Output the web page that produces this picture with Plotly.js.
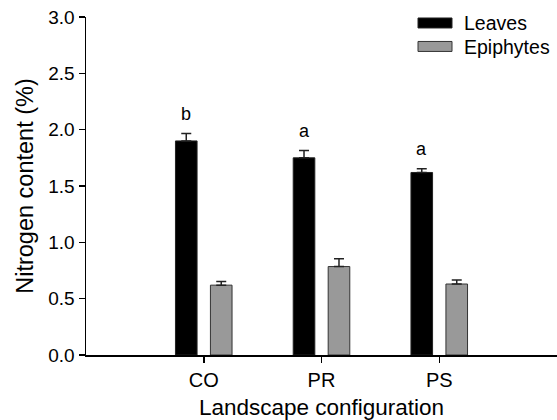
<!DOCTYPE html>
<html>
<head>
<meta charset="utf-8">
<script src="https://cdn.plot.ly/plotly-3.0.1.min.js"></script>
<style>html,body{margin:0;padding:0;background:#fff;}</style>
</head>
<body>
<div id="chart" style="width:557px;height:420px;"></div>
<script>
const categories = ["CO", "PR", "PS"];
const leaves = [1.90, 1.75, 1.62];
const leavesErr = [0.065, 0.065, 0.033];
const epiphytes = [0.62, 0.785, 0.63];
const epiphytesErr = [0.033, 0.07, 0.036];
const letters = ["b", "a", "a"];
const seriesNames = ["Leaves", "Epiphytes"];

const FONT = "Liberation Sans, Arial, sans-serif";

const traces = [
  {
    type: "bar", name: seriesNames[0], x: categories, y: leaves,
    marker: {color: "#000000", line: {color: "#222222", width: 1}},
    error_y: {type: "data", array: leavesErr, symmetric: false, arrayminus: [0,0,0], color: "#222222", thickness: 1.5, width: 5},
    showlegend: false
  },
  {
    type: "bar", name: seriesNames[1], x: categories, y: epiphytes,
    marker: {color: "#999999", line: {color: "#333333", width: 1}},
    error_y: {type: "data", array: epiphytesErr, symmetric: false, arrayminus: [0,0,0], color: "#222222", thickness: 1.5, width: 5},
    showlegend: false
  }
];

const annotations = categories.map((c, i) => ({
  x: c, y: leaves[i] + leavesErr[i], xref: "x", yref: "y",
  text: letters[i], showarrow: false, yanchor: "bottom", yshift: 8, xshift: -17.5,
  font: {family: FONT, size: 18, color: "#000"}
}));

// manual legend
const px = v => (v - 86) / 471;
const py = v => (355.5 - v) / 338.5;
const shapes = [
  {type: "rect", xref: "paper", yref: "paper", x0: px(418), x1: px(452), y0: py(28), y1: py(18), fillcolor: "#000000", line: {color: "#222", width: 1}},
  {type: "rect", xref: "paper", yref: "paper", x0: px(418), x1: px(452), y0: py(51.5), y1: py(41.5), fillcolor: "#999999", line: {color: "#333", width: 1}}
];
annotations.push(
  {xref: "paper", yref: "paper", x: px(462), y: py(23.5), xanchor: "left", yanchor: "middle", text: seriesNames[0], showarrow: false, font: {family: FONT, size: 19.5, color: "#000"}},
  {xref: "paper", yref: "paper", x: px(462), y: py(47), xanchor: "left", yanchor: "middle", text: seriesNames[1], showarrow: false, font: {family: FONT, size: 19.5, color: "#000"}}
);

const layout = {
  width: 557, height: 420,
  margin: {l: 86, r: 0, t: 17, b: 64.5, pad: 0},
  paper_bgcolor: "#fff", plot_bgcolor: "#fff",
  font: {family: FONT, color: "#000", size: 19},
  barmode: "group", bargap: 0.406, bargroupgap: 0.382,
  xaxis: {
    type: "category", range: [-1, 3], showgrid: false, zeroline: false,
    showline: true, linecolor: "#000", linewidth: 1.5,
    ticks: "outside", ticklen: 6, tickwidth: 1.5, tickcolor: "#000",
    tickfont: {family: FONT, size: 20},
    title: {text: "Landscape configuration", font: {family: FONT, size: 22.5}, standoff: 9}
  },
  yaxis: {
    range: [0, 3], dtick: 0.5, tickformat: ".1f", showgrid: false, zeroline: false,
    showline: true, linecolor: "#000", linewidth: 1.5,
    ticks: "outside", ticklen: 6, tickwidth: 1.5, tickcolor: "#000",
    tickfont: {family: FONT, size: 19},
    title: {text: "Nitrogen content (%)", font: {family: FONT, size: 23.5}, standoff: 8}
  },
  shapes: shapes,
  annotations: annotations
};

Plotly.newPlot("chart", traces, layout, {displayModeBar: false, staticPlot: true});
</script>
</body>
</html>
